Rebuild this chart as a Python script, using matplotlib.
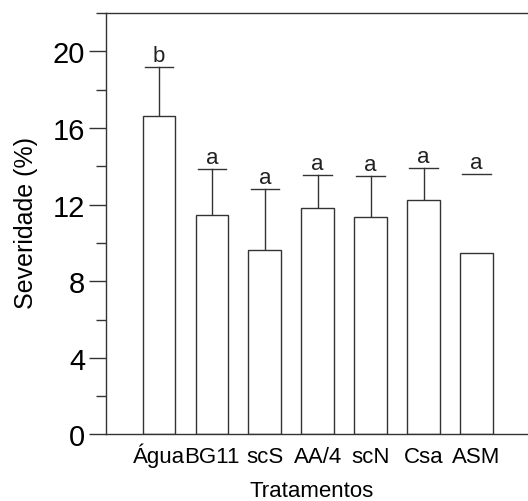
import matplotlib.pyplot as plt
from matplotlib.ticker import MultipleLocator

plt.rcParams['font.family'] = ['Liberation Sans', 'DejaVu Sans']

# data
tratamentos = ["Água", "BG11", "scS", "AA/4", "scN", "Csa", "ASM"]
severidade = [16.6, 11.45, 9.65, 11.83, 11.33, 12.25, 9.45]
erro_sup = [19.19, 13.87, 12.79, 13.55, 13.5, 13.9, 13.59]
letras = ["b", "a", "a", "a", "a", "a", "a"]
# ASM has only the cap drawn, no vertical whisker
mostra_haste = [True, True, True, True, True, True, False]

fig = plt.figure(figsize=(5.28, 5.02), dpi=100)
ax = fig.add_axes([0.201, 0.1325, 0.8015, 0.8397])

cor = "#333333"
x = list(range(1, len(tratamentos) + 1))
ax.bar(x, severidade, width=0.62, color="white", edgecolor=cor,
       linewidth=1.0, zorder=2)

# error bars (upper only) and letters
for xi, y, e, lt, h in zip(x, severidade, erro_sup, letras, mostra_haste):
    if h:
        ax.plot([xi, xi], [y, e], color=cor, linewidth=1.0, zorder=1)
    ax.plot([xi - 0.27, xi + 0.27], [e, e], color=cor, linewidth=1.0)
    ax.text(xi, e + 0.31, lt, ha="center", va="baseline", fontsize=16,
            color="#222222")

ax.set_xlim(0, 8)
ax.set_ylim(0, 22)
ax.set_xticks(x)
ax.set_xticklabels(tratamentos, fontsize=16)
# keep all labels on one baseline (the accent on Á would push it down)
for lb in ax.get_xticklabels():
    lb.set_va("baseline")
ax.tick_params(axis="x", length=0, pad=19.5)
ax.yaxis.set_major_locator(MultipleLocator(4))
ax.yaxis.set_minor_locator(MultipleLocator(2))
ax.tick_params(axis="y", which="major", length=12, width=1.0, color=cor,
               labelsize=21, pad=3)
ax.tick_params(axis="y", which="minor", length=7, width=1.0, color=cor)

ax.spines["right"].set_visible(False)
for s in ["left", "bottom", "top"]:
    ax.spines[s].set_color(cor)
    ax.spines[s].set_linewidth(1.0)

ax.set_ylabel("Severidade (%)", fontsize=18)
ax.set_xlabel("Tratamentos", fontsize=16)
ax.yaxis.set_label_coords(-0.162, 0.505)
ax.xaxis.set_label_coords(0.485, -0.108)

fig.savefig("out.png", dpi=100)
